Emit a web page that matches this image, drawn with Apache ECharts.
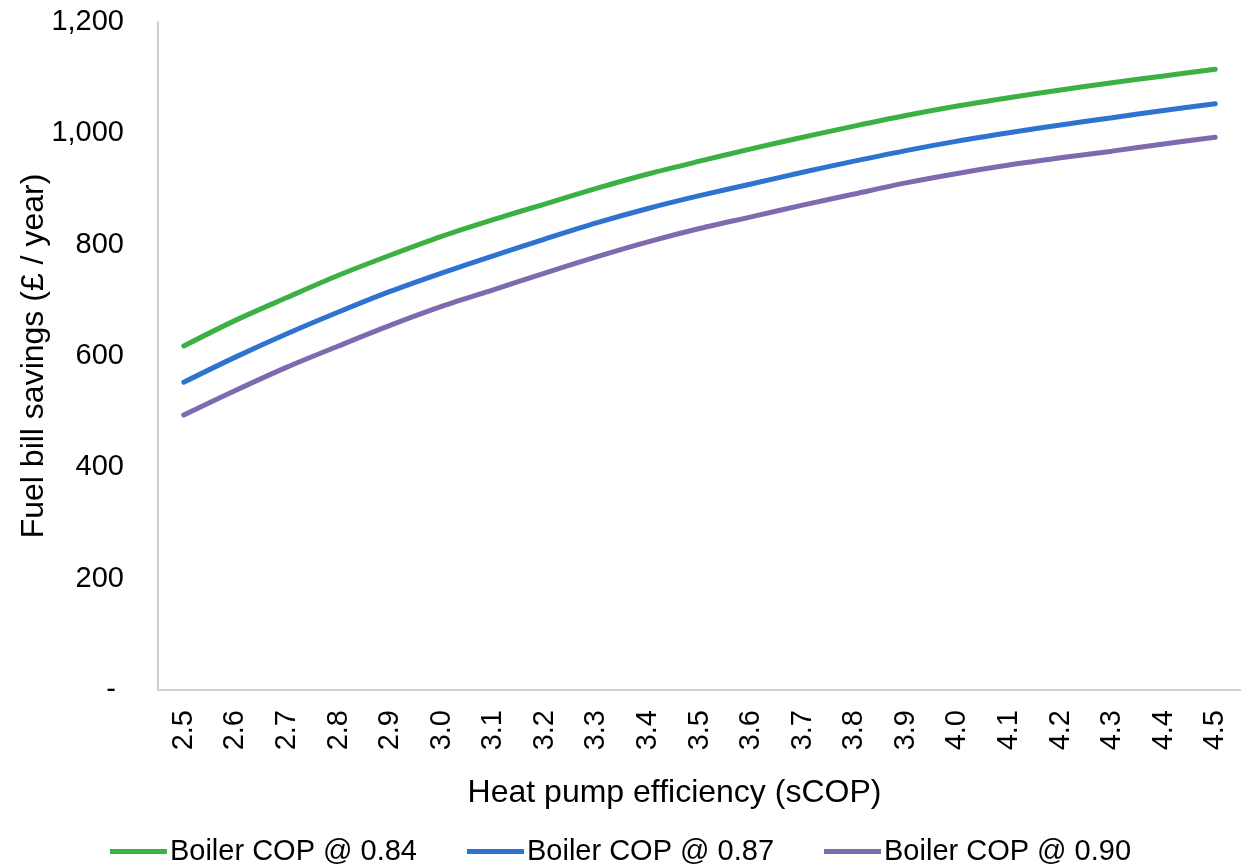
<!DOCTYPE html>
<html>
<head>
<meta charset="utf-8">
<script src="https://cdn.jsdelivr.net/npm/echarts@6/dist/echarts.min.js"></script>
<style>
html,body{margin:0;padding:0;background:#fff;}
#chart{width:1241px;height:864px;}
</style>
</head>
<body>
<div id="chart"></div>
<script>
const categories = ['2.5','2.6','2.7','2.8','2.9','3.0','3.1','3.2','3.3','3.4','3.5','3.6','3.7','3.8','3.9','4.0','4.1','4.2','4.3','4.4','4.5'];
const boiler084 = [618,664,705,745,781,815,845,873,901,927,950,972,993,1013,1032,1049,1064,1078,1091,1103,1115];
const boiler087 = [553,598,640,679,716,749,780,810,839,865,888,909,930,950,969,986,1001,1015,1028,1041,1053];
const boiler090 = [494,538,580,618,655,689,719,749,778,805,829,850,871,891,911,928,943,956,968,981,993];
const seriesNames = ['Boiler COP @ 0.84','Boiler COP @ 0.87','Boiler COP @ 0.90'];
const colors = ['#3BB143','#2F73D1','#7E6BAF'];

const font = 'Liberation Sans, Arial, sans-serif';
const chart = echarts.init(document.getElementById('chart'));
const mk = (name, data, color) => ({
  name, type: 'line', data, smooth: 0.3, symbol: 'none',
  lineStyle: {color, width: 5, cap: 'round'},
  itemStyle: {color}
});
chart.setOption({
  animation: false,
  color: colors,
  grid: {left: 158, right: 0, top: 22, bottom: 174, containLabel: false},
  legend: {
    top: 832, left: 'center', icon: 'rect', itemWidth: 57, itemHeight: 5, itemGap: 50,
    textStyle: {fontFamily: font, fontSize: 29, color: '#000', padding: [0,0,0,-2]},
    data: seriesNames
  },
  xAxis: {
    type: 'category', data: categories, boundaryGap: true,
    name: 'Heat pump efficiency (sCOP)', nameLocation: 'middle', nameGap: 87,
    nameMoveOverlap: false,
    nameTextStyle: {fontFamily: font, fontSize: 32, color: '#000', padding: [0,50,0,0]},
    axisLine: {lineStyle: {color: '#D0D0D0', width: 2}},
    axisTick: {show: false},
    axisLabel: {rotate: 90, margin: 20, fontFamily: font, fontSize: 29, color: '#000', interval: 0}
  },
  yAxis: {
    type: 'value', min: 0, max: 1200, interval: 200,
    name: 'Fuel bill savings (£ / year)', nameLocation: 'middle', nameGap: 108,
    nameMoveOverlap: false,
    nameTextStyle: {fontFamily: font, fontSize: 32, color: '#000'},
    axisLine: {show: true, lineStyle: {color: '#D0D0D0', width: 2}},
    axisTick: {show: false},
    splitLine: {show: false},
    axisLabel: {
      margin: 34, fontFamily: font, fontSize: 29, color: '#000',
      formatter: v => v === 0 ? '- ' : v.toLocaleString('en-US')
    }
  },
  series: [mk(seriesNames[0], boiler084, colors[0]), mk(seriesNames[1], boiler087, colors[1]), mk(seriesNames[2], boiler090, colors[2])]
});
</script>
</body>
</html>
